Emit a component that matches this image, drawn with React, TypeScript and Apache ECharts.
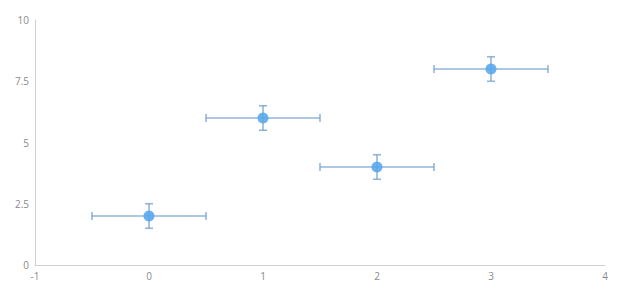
import React, { useEffect, useRef } from "react";
import * as echarts from "echarts";

const xValues = [0, 1, 2, 3];
const yValues = [2, 6, 4, 8];
const xErrors = [0.5, 0.5, 0.5, 0.5];
const yErrors = [0.5, 0.5, 0.5, 0.5];

export default function App() {
  const ref = useRef<HTMLDivElement>(null);
  useEffect(() => {
    if (!ref.current) return;
    const chart = echarts.init(ref.current, undefined, { renderer: "svg" });
    const points = xValues.map((x, i) => [x, yValues[i]]);
    const errData = xValues.map((x, i) => [x, yValues[i], xErrors[i], yErrors[i]]);
    const barColor = "rgba(120,162,208,0.8)";
    chart.setOption({
      animation: false,
      grid: { left: 35, right: 15, top: 20, bottom: 35 },
      xAxis: {
        type: "value",
        min: -1,
        max: 4,
        interval: 1,
        splitLine: { show: false },
        axisTick: { show: false },
        axisLine: { onZero: false, lineStyle: { color: "#d0d0d0" } },
        axisLabel: { color: "#8a8a8a", fontSize: 10, fontFamily: "Open Sans", margin: 6 },
      },
      yAxis: {
        type: "value",
        min: 0,
        max: 10,
        interval: 2.5,
        splitLine: { show: false },
        axisTick: { show: false },
        axisLine: { show: true, onZero: false, lineStyle: { color: "#d0d0d0" } },
        axisLabel: { color: "#8a8a8a", fontSize: 10, fontFamily: "Open Sans", margin: 6 },
      },
      series: [
        {
          type: "custom",
          data: errData,
          renderItem: (params: any, api: any) => {
            const x = api.value(0);
            const y = api.value(1);
            const ex = api.value(2);
            const ey = api.value(3);
            const left = api.coord([x - ex, y]);
            const right = api.coord([x + ex, y]);
            const top = api.coord([x, y + ey]);
            const bottom = api.coord([x, y - ey]);
            const c = 4;
            const style = { stroke: barColor, lineWidth: 1.6, fill: "none" };
            return {
              type: "group",
              children: [
                { type: "line", shape: { x1: left[0], y1: left[1], x2: right[0], y2: right[1] }, style },
                { type: "line", shape: { x1: left[0], y1: left[1] - c, x2: left[0], y2: left[1] + c }, style },
                { type: "line", shape: { x1: right[0], y1: right[1] - c, x2: right[0], y2: right[1] + c }, style },
                { type: "line", shape: { x1: top[0], y1: top[1], x2: bottom[0], y2: bottom[1] }, style },
                { type: "line", shape: { x1: top[0] - c, y1: top[1], x2: top[0] + c, y2: top[1] }, style },
                { type: "line", shape: { x1: bottom[0] - c, y1: bottom[1], x2: bottom[0] + c, y2: bottom[1] }, style },
              ],
            };
          },
          z: 1,
        },
        {
          type: "scatter",
          data: points,
          symbolSize: 11,
          itemStyle: { color: "#5aa8ec", opacity: 0.9 },
          z: 2,
        },
      ],
    });
    return () => chart.dispose();
  }, []);
  return (
    <div
      ref={ref}
      style={{ position: "fixed", left: 0, top: 0, width: 620, height: 300, background: "#fff" }}
    />
  );
}
